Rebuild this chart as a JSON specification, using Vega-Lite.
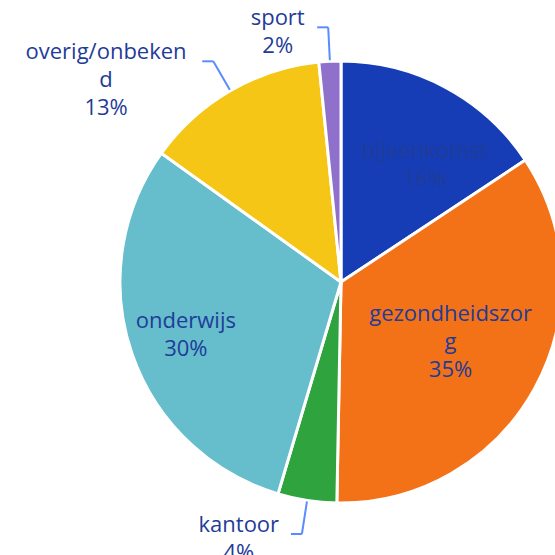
{
  "$schema": "https://vega.github.io/schema/vega-lite/v6.json",
  "width": 428,
  "height": 428,
  "autosize": {"type": "none"},
  "padding": {"left": 127, "top": 68, "right": 0, "bottom": 59},
  "background": "#ffffff",
  "config": {"view": {"stroke": null}},
  "data": {
    "values": [
      {"category": "bijeenkomst", "value": 15.7, "label": ["bijeenkomst", "16%"], "order": 1},
      {"category": "gezondheidszorg", "value": 34.6, "label": ["gezondheidszor", "g", "35%"], "order": 2},
      {"category": "kantoor", "value": 4.3, "label": ["kantoor", "4%"], "order": 3},
      {"category": "onderwijs", "value": 30.3, "label": ["onderwijs", "30%"], "order": 4},
      {"category": "overig/onbekend", "value": 13.5, "label": ["overig/onbeken", "d", "13%"], "order": 5},
      {"category": "sport", "value": 1.6, "label": ["sport", "2%"], "order": 6}
    ]
  },
  "transform": [
    {"window": [{"op": "sum", "field": "value", "as": "cum"}], "sort": [{"field": "order"}], "frame": [null, 0]},
    {"joinaggregate": [{"op": "sum", "field": "value", "as": "total"}]},
    {"calculate": "2*PI*(datum.cum-datum.value/2)/datum.total", "as": "mid"},
    {"calculate": "datum.mid + (datum.category=='bijeenkomst' ? 0.127 : 0)", "as": "lang"},
    {"calculate": "datum.category=='onderwijs'?164:datum.category=='gezondheidszorg'?125:144", "as": "rin"},
    {"calculate": "datum.rin*sin(datum.lang)", "as": "ix"},
    {"calculate": "datum.rin*cos(datum.lang) + (length(datum.label)-1)*14", "as": "iy"},
    {"calculate": "222*sin(datum.mid)", "as": "px"},
    {"calculate": "222*cos(datum.mid)", "as": "py"},
    {"calculate": "255*sin(datum.mid)", "as": "qx"},
    {"calculate": "255*cos(datum.mid)", "as": "qy"},
    {"calculate": "datum.qx-11", "as": "rx"},
    {"calculate": "datum.rx-8-6.3*length(datum.label[0])", "as": "ox"},
    {"calculate": "datum.qy+19", "as": "oy"}
  ],
  "layer": [
    {
      "mark": {"type": "arc", "outerRadius": 221, "stroke": "#ffffff", "strokeWidth": 3},
      "encoding": {
        "theta": {"field": "value", "type": "quantitative", "stack": true},
        "order": {"field": "order", "type": "quantitative"},
        "color": {
          "field": "category",
          "type": "nominal",
          "scale": {
            "domain": ["bijeenkomst", "gezondheidszorg", "kantoor", "onderwijs", "overig/onbekend", "sport"],
            "range": ["#163db5", "#f37217", "#2fa33d", "#66bdcc", "#f5c616", "#8f71cc"]
          },
          "legend": null
        }
      }
    },
    {
      "transform": [{"filter": "datum.value < 15"}],
      "mark": {"type": "rule", "stroke": "#5b8cff", "strokeWidth": 2},
      "encoding": {
        "x": {"field": "px", "type": "quantitative", "scale": {"domain": [-214, 214], "nice": false, "zero": false}, "axis": null},
        "y": {"field": "py", "type": "quantitative", "scale": {"domain": [-214, 214], "nice": false, "zero": false}, "axis": null},
        "x2": {"field": "qx"},
        "y2": {"field": "qy"}
      }
    },
    {
      "transform": [{"filter": "datum.value < 15"}],
      "mark": {"type": "rule", "stroke": "#5b8cff", "strokeWidth": 2},
      "encoding": {
        "x": {"field": "qx", "type": "quantitative", "scale": {"domain": [-214, 214], "nice": false, "zero": false}, "axis": null},
        "y": {"field": "qy", "type": "quantitative", "scale": {"domain": [-214, 214], "nice": false, "zero": false}, "axis": null},
        "x2": {"field": "rx"}
      }
    },
    {
      "transform": [{"filter": "datum.value < 15"}],
      "mark": {"type": "text", "font": "Open Sans", "fontSize": 22, "lineHeight": 28, "color": "#1f3c98", "align": "center", "baseline": "top"},
      "encoding": {
        "x": {"field": "ox", "type": "quantitative", "scale": {"domain": [-214, 214], "nice": false, "zero": false}, "axis": null},
        "y": {"field": "oy", "type": "quantitative", "scale": {"domain": [-214, 214], "nice": false, "zero": false}, "axis": null},
        "text": {"field": "label"}
      }
    },
    {
      "transform": [{"filter": "datum.value >= 15"}],
      "mark": {"type": "text", "font": "Open Sans", "fontSize": 22, "lineHeight": 28, "color": "#1f3c98", "align": "center", "baseline": "middle"},
      "encoding": {
        "x": {"field": "ix", "type": "quantitative", "scale": {"domain": [-214, 214], "nice": false, "zero": false}, "axis": null},
        "y": {"field": "iy", "type": "quantitative", "scale": {"domain": [-214, 214], "nice": false, "zero": false}, "axis": null},
        "text": {"field": "label"}
      }
    }
  ]
}
